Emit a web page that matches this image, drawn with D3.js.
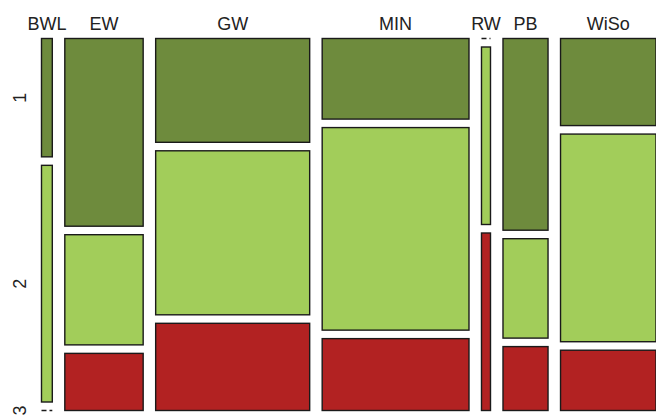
<!DOCTYPE html>
<html>
<head>
<meta charset="utf-8">
<script src="https://cdn.jsdelivr.net/npm/d3@7"></script>
<style>
  html, body { margin: 0; padding: 0; background: #ffffff; overflow: hidden; }
  svg { display: block; }
</style>
</head>
<body>
<div id="chart"></div>
<script>
// Faculties along the horizontal axis, answer levels stacked vertically
const categories = ["BWL", "EW", "GW", "MIN", "RW", "PB", "WiSo"];
const levels = ["1", "2", "3"];

// Counts per faculty for each answer level
const level1 = [4, 46, 50, 37, 0, 27, 26];
const level2 = [8, 27, 79, 93, 5, 14, 62];
const level3 = [0, 14, 42, 33, 5, 9, 18];

const levelColors = ["#6E8B3D", "#A2CD5A", "#B22222"];

const width = 656, height = 415;
const plot = { left: 41.5, right: 656, top: 38.5, bottom: 410.5 };
const colGap = 12.5;
const rowGap = 8.5;

const series = [level1, level2, level3];
const colTotals = categories.map((c, i) => d3.sum(series, s => s[i]));
const grandTotal = d3.sum(colTotals);

const availW = (plot.right - plot.left) - colGap * (categories.length - 1);
const availH = (plot.bottom - plot.top) - rowGap * (levels.length - 1);

const xs = d3.scaleLinear().domain([0, grandTotal]).range([0, availW]);
const hs = d3.scaleLinear().domain([0, 1]).range([0, availH]);

const svg = d3.select("#chart").append("svg")
  .attr("width", width).attr("height", height);

// Build cells: one column per faculty, split by level share
const cells = [];
let cum = 0;
categories.forEach((cat, i) => {
  const x0 = plot.left + xs(cum) + i * colGap;
  const w = xs(colTotals[i]);
  let y = plot.top;
  series.forEach((s, j) => {
    const h = hs(s[i] / colTotals[i]);
    cells.push({ cat, level: levels[j], j, x: x0, y, w, h, value: s[i] });
    y += h + rowGap;
  });
  cum += colTotals[i];
});

const columns = categories.map(cat => {
  const c = cells.filter(d => d.cat === cat);
  return { cat, x: c[0].x, w: c[0].w };
});

// Filled cells
svg.append("g").selectAll("rect")
  .data(cells.filter(d => d.value > 0))
  .join("rect")
  .attr("x", d => d.x).attr("y", d => d.y)
  .attr("width", d => d.w).attr("height", d => d.h)
  .attr("fill", d => levelColors[d.j])
  .attr("stroke", "#1a1a1a")
  .attr("stroke-width", 1.4);

// Empty cells drawn as dashed lines
svg.append("g").selectAll("line")
  .data(cells.filter(d => d.value === 0))
  .join("line")
  .attr("x1", d => d.x).attr("x2", d => d.x + d.w)
  .attr("y1", d => d.y).attr("y2", d => d.y)
  .attr("stroke", "#1a1a1a")
  .attr("stroke-width", 1.4)
  .attr("stroke-dasharray", "5,3");

// Faculty labels on top
svg.append("g").selectAll("text")
  .data(columns)
  .join("text")
  .attr("x", d => d.x + d.w / 2)
  .attr("y", 30)
  .attr("text-anchor", "middle")
  .attr("font-family", "'Liberation Sans', Arial, sans-serif")
  .attr("font-size", 18)
  .attr("fill", "#222")
  .text(d => d.cat);

// Level labels on the left, placed at the first column's cells
const firstCol = cells.filter(d => d.cat === categories[0]);
svg.append("g").selectAll("text")
  .data(firstCol)
  .join("text")
  .attr("transform", d => `translate(20,${d.y + d.h / 2}) rotate(-90)`)
  .attr("text-anchor", "middle")
  .attr("dy", "0.35em")
  .attr("font-family", "'Liberation Sans', Arial, sans-serif")
  .attr("font-size", 18)
  .attr("fill", "#222")
  .text(d => d.level);
</script>
</body>
</html>
